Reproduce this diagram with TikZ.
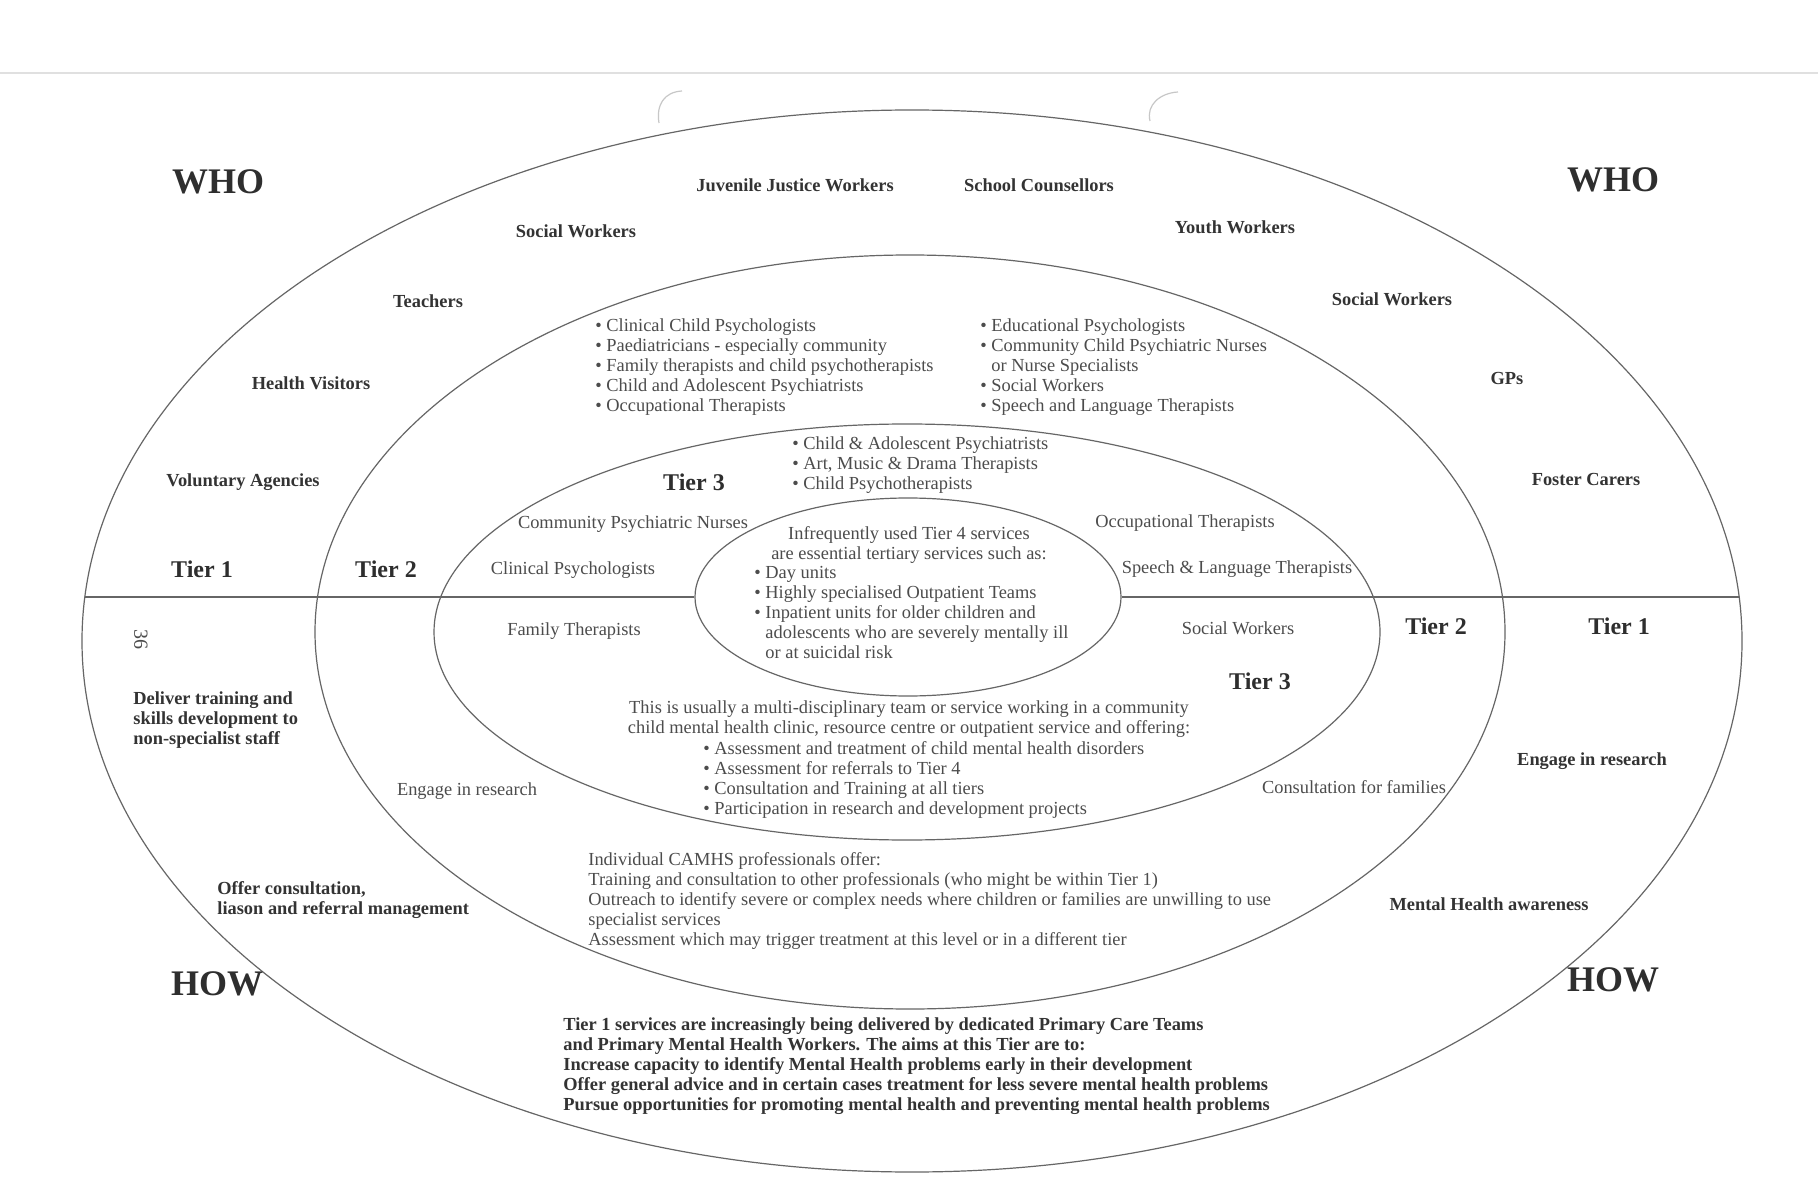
\documentclass[tikz,border=0pt]{standalone}
\usepackage{fontspec}
\setmainfont{Liberation Serif}
\usetikzlibrary{shapes.geometric}
\begin{document}
\begin{tikzpicture}[x=0.5pt,y=-0.5pt,
  ring/.style={ellipse, draw=black!60, line width=0.6pt, inner sep=0pt},
  divider/.style={draw=black!60, line width=0.6pt},
  artefact/.style={draw=black!22, line width=0.6pt},
  head/.style={font=\fontsize{18}{20}\selectfont\bfseries, text=black!82, inner sep=0pt},
  tierlbl/.style={font=\fontsize{12}{14}\selectfont\bfseries, text=black!82, inner sep=0pt},
  who/.style={font=\fontsize{9.2}{10}\selectfont\bfseries, text=black!80, inner sep=0pt},
  plain/.style={font=\fontsize{9.2}{10}\selectfont, text=black!70, inner sep=0pt},
  whoblock/.style={who, align=left, anchor=north west},
  plainblock/.style={plain, align=left, anchor=north west},
]
\useasboundingbox (0,0) rectangle (1818,1202);
\fill[white] (0,0) rectangle (1818,1202);

% scan artefacts
\coordinate (scanL) at (0,73);
\coordinate (scanR) at (1818,73);
\draw[draw=black!12, line width=0.6pt] (scanL) -- (scanR);
\coordinate (holeA) at (682,91);
\coordinate (holeB) at (1178,92);
\draw[artefact] (holeA) .. controls (664,92) and (656,105) .. (659,123);
\draw[artefact] (holeB) .. controls (1160,93) and (1146,105) .. (1150,121);

% rings
\node[ring, minimum width=830pt, minimum height=531pt] (t1) at (912,641) {};
\node[ring, minimum width=595pt, minimum height=377pt] (t2) at (910,632) {};
\node[ring, minimum width=473pt, minimum height=208pt] (t3) at (907,632) {};
\node[ring, minimum width=213pt, minimum height=99pt] (t4) at (908,597) {};

\coordinate (divL) at (85,597);
\coordinate (divR) at (1739,597);
\draw[divider] (divL) -- (t4.west);
\draw[divider] (t4.east) -- (divR);

% headings
\node[head] (whoL) at (218,182) {WHO};
\node[head] (whoR) at (1613,180) {WHO};
\node[head] (howL) at (217,984) {HOW};
\node[head] (howR) at (1613,980) {HOW};

% tier labels
\node[tierlbl] (tier1L) at (202,569) {Tier 1};
\node[tierlbl] (tier2L) at (386,569) {Tier 2};
\node[tierlbl] (tier2R) at (1436,626) {Tier 2};
\node[tierlbl] (tier1R) at (1619,626) {Tier 1};
\node[tierlbl] (tier3a) at (694,482) {Tier 3};
\node[tierlbl] (tier3b) at (1260,681) {Tier 3};

% page number
\node[plain, font=\fontsize{10}{12}\selectfont, rotate=-90] (pg) at (141,639) {36};

% Tier 1 ring: who
\node[who] (jjw) at (795,185) {Juvenile Justice Workers};
\node[who] (sc) at (1039,185) {School Counsellors};
\node[who] (swL) at (576,231) {Social Workers};
\node[who] (yw) at (1235,227) {Youth Workers};
\node[who] (teach) at (428,301) {Teachers};
\node[who] (swR) at (1392,299) {Social Workers};
\node[who] (hv) at (311,383) {Health Visitors};
\node[who] (gps) at (1507,379) {GPs};
\node[who] (va) at (243,482) {Voluntary Agencies};
\node[who] (fc) at (1586,480) {Foster Carers};

% Tier 1 ring: how
\node[whoblock] (deliver) at (133,691) {Deliver training and\\skills development to\\non-specialist staff};
\node[whoblock] (offer) at (217,881) {Offer consultation,\\liason and referral management};
\node[who] (research1) at (1592,761) {Engage in research};
\node[who] (mha) at (1489,904) {Mental Health awareness};
\node[whoblock] (t1aims) at (563,1017) {Tier 1 services are increasingly being delivered by dedicated Primary Care Teams\\and Primary Mental Health Workers. The aims at this Tier are to:\\Increase capacity to identify Mental Health problems early in their development\\Offer general advice and in certain cases treatment for less severe mental health problems\\Pursue opportunities for promoting mental health and preventing mental health problems};

% Tier 2 ring
\node[plainblock] (t2listL) at (595,318) {• Clinical Child Psychologists\\• Paediatricians - especially community\\• Family therapists and child psychotherapists\\• Child and Adolescent Psychiatrists\\• Occupational Therapists};
\node[plainblock] (t2listR) at (980,318) {• Educational Psychologists\\• Community Child Psychiatric Nurses\\\hphantom{• }or Nurse Specialists\\• Social Workers\\• Speech and Language Therapists};
\node[plain] (research2) at (467,791) {Engage in research};
\node[plain] (consult) at (1354,787) {Consultation for families};
\node[plainblock] (camhs) at (588,852) {Individual CAMHS professionals offer:\\Training and consultation to other professionals (who might be within Tier 1)\\Outreach to identify severe or complex needs where children or families are unwilling to use\\specialist services\\Assessment which may trigger treatment at this level or in a different tier};

% Tier 3 ring
\node[plainblock] (t3list) at (792,436) {• Child \& Adolescent Psychiatrists\\• Art, Music \& Drama Therapists\\• Child Psychotherapists};
\node[plain] (cpn) at (633,524) {Community Psychiatric Nurses};
\node[plain] (ot) at (1185,523) {Occupational Therapists};
\node[plain] (cp) at (573,570) {Clinical Psychologists};
\node[plain] (slt) at (1237,569) {Speech \& Language Therapists};
\node[plain] (ft) at (574,631) {Family Therapists};
\node[plain] (sw3) at (1238,628) {Social Workers};
\node[plain, align=center, anchor=north] (usual) at (909,700) {This is usually a multi-disciplinary team or service working in a community\\child mental health clinic, resource centre or outpatient service and offering:};
\node[plainblock] (usuallist) at (703,741) {• Assessment and treatment of child mental health disorders\\• Assessment for referrals to Tier 4\\• Consultation and Training at all tiers\\• Participation in research and development projects};

% Tier 4
\node[plain, align=center, anchor=north] (t4head) at (909,526) {Infrequently used Tier 4 services\\are essential tertiary services such as:};
\node[plainblock] (t4list) at (754,566) {• Day units\\• Highly specialised Outpatient Teams\\• Inpatient units for older children and\\\hphantom{• }adolescents who are severely mentally ill\\\hphantom{• }or at suicidal risk};

\end{tikzpicture}
\end{document}
